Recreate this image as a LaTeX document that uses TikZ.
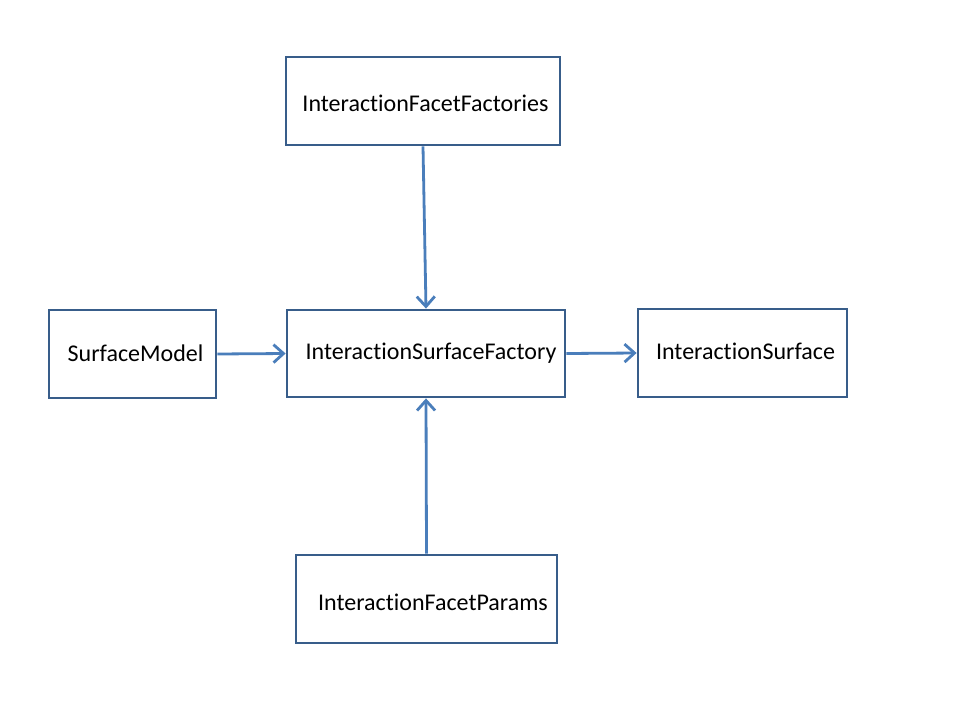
\documentclass[tikz,border=0pt]{standalone}
\usepackage{fontspec}
\setmainfont{Carlito}[Ligatures={NoCommon}]
\usetikzlibrary{arrows.meta}
\definecolor{boxline}{HTML}{385D8A}
\definecolor{arrowline}{HTML}{4A7EBB}
\tikzset{
  boxnode/.style={draw=boxline, line width=2.8pt, fill=white, rectangle, inner sep=0pt},
  labeltext/.style={anchor=base, inner sep=0pt, font=\fontsize{24}{28}\selectfont, text=black},
  conn/.style={draw=arrowline, line width=2.8pt, -{Straight Barb[length=10pt,width=18pt,line width=2.8pt]}}
}
\begin{document}
\begin{tikzpicture}[x=1pt,y=-1pt]
\useasboundingbox[fill=white] (0,0) rectangle (960,720);
\node[boxnode, minimum width=274pt, minimum height=88pt] (FF) at (423,101) {};
\node[boxnode, minimum width=167pt, minimum height=88pt] (SM) at (132.5,354) {};
\node[boxnode, minimum width=278pt, minimum height=87pt] (ISF) at (426,353.5) {};
\node[boxnode, minimum width=209pt, minimum height=88pt] (IS) at (742.5,353) {};
\node[boxnode, minimum width=261pt, minimum height=88pt] (FP) at (426.5,599) {};
\node[labeltext] (tFF) at (425.5,111) {InteractionFacetFactories};
\node[labeltext] (tSM) at (135.5,361) {SurfaceModel};
\node[labeltext] (tISF) at (431,359) {InteractionSurfaceFactory};
\node[labeltext] (tIS) at (745.5,359) {InteractionSurface};
\node[labeltext] (tFP) at (433,610) {InteractionFacetParams};
\draw[conn] (FF.south) -- (ISF.north);
\draw[conn] (SM.east) -- (ISF.west);
\draw[conn] (ISF.east) -- (IS.west);
\draw[conn] (FP.north) -- (ISF.south);
\end{tikzpicture}
\end{document}
